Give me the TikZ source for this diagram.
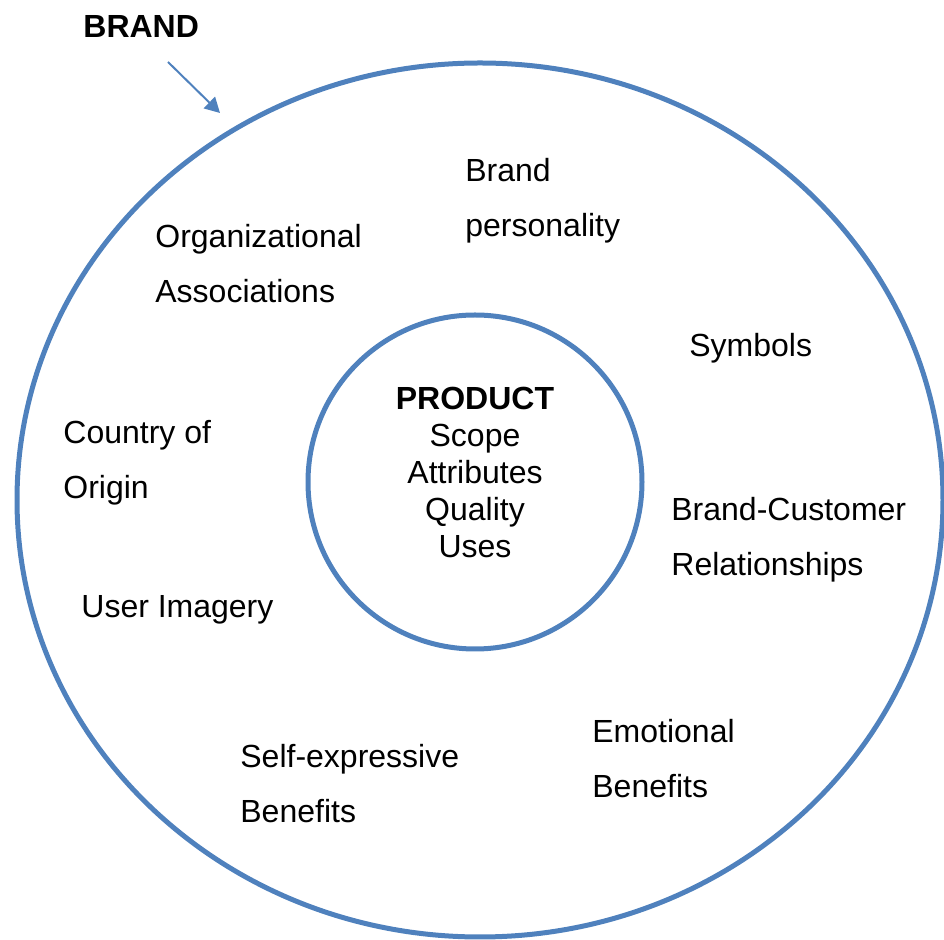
\documentclass[tikz,border=0pt]{standalone}
\usepackage{fontspec}
\setmainfont{Liberation Sans}
\usetikzlibrary{arrows.meta}
\definecolor{ringblue}{HTML}{4F81BD}

\begin{document}
\begin{tikzpicture}[x=.5pt,y=-.5pt,
    ring/.style={draw=ringblue,line width=2.5pt},
    lbl/.style={anchor=west,align=left,inner sep=0pt,font=\fontsize{16}{27.5}\selectfont}]
    \useasboundingbox (0,0) rectangle (944,940);
    % rings ====================================================
    \draw[ring] (480,500) ellipse [x radius=463,y radius=437];
    \draw[ring] (475,482) circle [radius=167];
    % brand pointer ============================================
    \node[lbl,font=\bfseries\fontsize{16}{19}\selectfont] (brand) at (83,27) {BRAND};
    \coordinate (tail) at (168,62);
    \coordinate (tip)  at (220,113);
    \draw[ringblue,line width=1pt,-{Triangle[length=7.5pt,width=8pt]}] (tail) -- (tip);
    % core =====================================================
    \node[align=center,inner sep=0pt,font=\fontsize{16}{18.5}\selectfont] (product) at (475,472)
        {\textbf{PRODUCT}\\Scope\\Attributes\\Quality\\Uses};
    % associations =============================================
    \node[lbl] (personality) at (465,201)  {Brand\\personality};
    \node[lbl] (organization) at (155,264) {Organizational\\Associations};
    \node[lbl] (symbols)      at (689,348) {Symbols};
    \node[lbl] (country)      at (63,463)  {Country of\\Origin};
    \node[lbl] (relations)    at (671,540) {Brand-Customer\\Relationships};
    \node[lbl] (imagery)      at (81,610)  {User Imagery};
    \node[lbl] (emotional)    at (592,759) {Emotional\\Benefits};
    \node[lbl] (selfexpr)     at (240,784) {Self-expressive\\Benefits};
\end{tikzpicture}
\end{document}
